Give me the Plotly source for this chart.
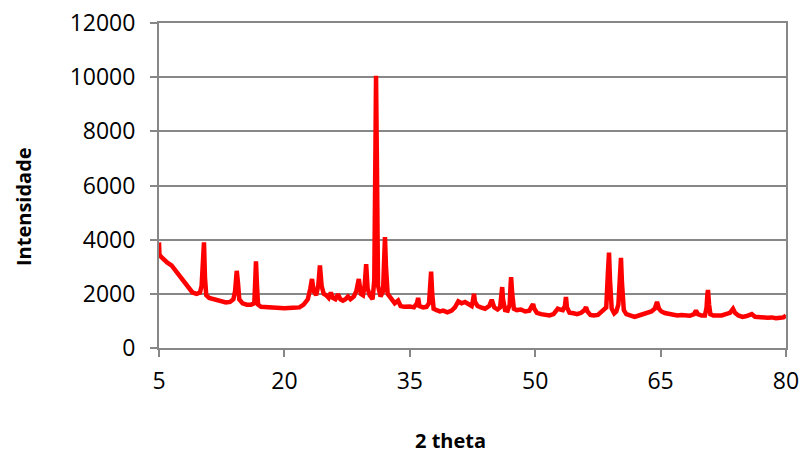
import plotly.graph_objects as go

two_theta = [5.0, 5.05, 5.3, 5.6, 6.0, 6.5, 7.0, 7.5, 8.0, 8.5, 9.0, 9.5, 9.9, 10.1, 10.25, 10.38, 10.5, 10.65,
             11.0, 11.5, 12.0, 12.5, 13.0, 13.5, 13.9, 14.1, 14.3, 14.45, 14.6, 15.0, 15.5, 16.0, 16.4, 16.5,
             16.6, 16.72, 16.85, 17.2, 18.0, 19.0, 20.0, 21.0, 21.8, 22.3, 22.8, 23.1, 23.3, 23.5, 23.8,
             24.05, 24.25, 24.45, 24.7, 25.0, 25.3, 25.55, 25.8, 26.1, 26.4, 26.7, 27.0, 27.3, 27.6, 27.9,
             28.3, 28.6, 28.9, 29.15, 29.4, 29.6, 29.78, 29.95, 30.2, 30.55, 30.75, 30.88, 30.96, 31.06,
             31.2, 31.5, 31.8, 31.95, 32.03, 32.15, 32.35, 32.6, 32.9, 33.2, 33.6, 33.9, 34.3, 34.7, 35.0,
             35.5, 35.85, 36.0, 36.15, 36.6, 37.0, 37.3, 37.45, 37.55, 37.68, 37.85, 38.2, 38.6, 39.0, 39.5,
             40.0, 40.4, 40.8, 41.2, 41.6, 42.0, 42.4, 42.55, 42.68, 42.8, 43.1, 43.5, 44.0, 44.5, 44.8,
             45.1, 45.5, 45.8, 45.95, 46.05, 46.15, 46.4, 46.7, 46.95, 47.05, 47.12, 47.25, 47.45, 47.8,
             48.3, 48.8, 49.3, 49.6, 49.75, 49.9, 50.2, 50.7, 51.2, 51.7, 52.2, 52.7, 53.0, 53.3, 53.55,
             53.68, 53.8, 54.1, 54.6, 55.0, 55.5, 55.9, 56.08, 56.25, 56.6, 57.0, 57.5, 57.9, 58.2, 58.5,
             58.7, 58.83, 58.95, 59.15, 59.45, 59.7, 59.95, 60.12, 60.26, 60.38, 60.48, 60.6, 60.9, 61.4,
             61.9, 62.4, 62.9, 63.4, 63.9, 64.3, 64.57, 64.8, 65.1, 65.5, 66.0, 66.5, 67.0, 67.5, 68.0,
             68.5, 69.0, 69.23, 69.45, 69.9, 70.3, 70.5, 70.6, 70.67, 70.8, 70.95, 71.3, 71.8, 72.3, 72.8,
             73.3, 73.66, 73.9, 74.3, 74.8, 75.3, 75.9, 76.3, 76.8, 77.3, 77.8, 78.3, 78.8, 79.3, 79.7, 80.0]

intensity = [3900, 3450, 3350, 3250, 3150, 3050, 2850, 2650, 2400, 2200, 2050, 2000, 2050, 2300, 3300, 3900, 2600, 1950,
             1850, 1800, 1750, 1700, 1680, 1700, 1800, 2100, 2850, 2400, 1800, 1650, 1600, 1600, 1650, 2400,
             3200, 2300, 1600, 1520, 1500, 1480, 1470, 1490, 1500, 1600, 1800, 2200, 2550, 2100, 1950,
             2300, 3050, 2300, 2000, 1950, 1850, 2050, 1850, 1800, 1980, 1800, 1750, 1800, 1900, 1800,
             1900, 2100, 2550, 2000, 1950, 2300, 3100, 2200, 1950, 1800, 2500, 7000, 10050, 7000,
             2300, 1900, 2100, 3400, 4100, 3000, 2000, 1900, 1800, 1650, 1750, 1550, 1520, 1550, 1530,
             1500, 1650, 1850, 1550, 1500, 1520, 1650, 2400, 2820, 2000, 1450, 1400, 1350, 1380, 1320,
             1380, 1500, 1720, 1650, 1700, 1600, 1550, 1750, 2000, 1700, 1550, 1500, 1450, 1550, 1780,
             1500, 1420, 1500, 1900, 2250, 1800, 1400, 1380, 1600, 2300, 2620, 2000, 1450, 1400,
             1420, 1350, 1380, 1550, 1620, 1450, 1300, 1250, 1220, 1200, 1250, 1450, 1420, 1400, 1550,
             1880, 1500, 1300, 1280, 1250, 1300, 1400, 1510, 1350, 1220, 1200, 1220, 1350, 1400, 1500,
             2800, 3520, 2500, 1450, 1280, 1350, 1600, 2800, 3330, 2400, 2100, 1400, 1250, 1200,
             1150, 1200, 1250, 1300, 1350, 1450, 1700, 1450, 1350, 1290, 1250, 1220, 1200, 1220, 1200,
             1190, 1250, 1380, 1250, 1200, 1200, 1500, 2000, 2140, 1600, 1250, 1200, 1180, 1200, 1250,
             1300, 1450, 1300, 1200, 1150, 1180, 1250, 1150, 1130, 1150, 1120, 1130, 1100, 1120, 1130, 1200]

x_ticks = [5, 20, 35, 50, 65, 80]
y_ticks = [0, 2000, 4000, 6000, 8000, 10000, 12000]

FONT = "Open Sans"
GRID = "#878787"

fig = go.Figure()
fig.add_trace(go.Scatter(x=two_theta, y=intensity, mode="lines",
                         line=dict(color="#ff0000", width=4.5), showlegend=False))

fig.update_layout(
    width=803, height=457,
    margin=dict(l=159, r=17, t=23, b=109, autoexpand=False),
    paper_bgcolor="white", plot_bgcolor="white",
    font=dict(family=FONT, color="#000000", size=23),
    xaxis=dict(range=[5, 80], tickvals=x_ticks, ticktext=[str(v) for v in x_ticks],
               automargin=False, ticklabeloverflow="allow",
               showgrid=False, zeroline=False, showline=True, linecolor=GRID, linewidth=2,
               mirror=True, ticks="outside", ticklen=7, tickcolor=GRID, tickwidth=2,
               ticklabelstandoff=4, tickfont=dict(family=FONT, size=23)),
    yaxis=dict(range=[0, 12000], tickvals=y_ticks, ticktext=[str(v) for v in y_ticks],
               automargin=False, ticklabeloverflow="allow",
               showgrid=True, gridcolor=GRID, gridwidth=2, zeroline=False,
               showline=True, linecolor=GRID, linewidth=2, mirror=True,
               ticks="outside", ticklen=7, tickcolor=GRID, tickwidth=2,
               ticklabelstandoff=10, tickfont=dict(family=FONT, size=23)),
    annotations=[
        dict(text="<b>2 theta</b>", xref="paper", yref="paper", x=(450 - 159) / 627,
             y=-(440 - 348) / 325, xanchor="center", yanchor="middle", showarrow=False,
             font=dict(family=FONT, size=20)),
        dict(text="<b>Intensidade</b>", xref="paper", yref="paper", x=-(159 - 23) / 627,
             y=(348 - 207) / 325, xanchor="center", yanchor="middle", textangle=-90,
             showarrow=False, font=dict(family=FONT, size=20)),
    ],
)

# remove the browser's default 8px body margin so the figure sits at the page origin
fig.write_html("out.html", config={"displayModeBar": False},
               post_script="document.body.style.margin='0';document.body.style.overflow='hidden';")
